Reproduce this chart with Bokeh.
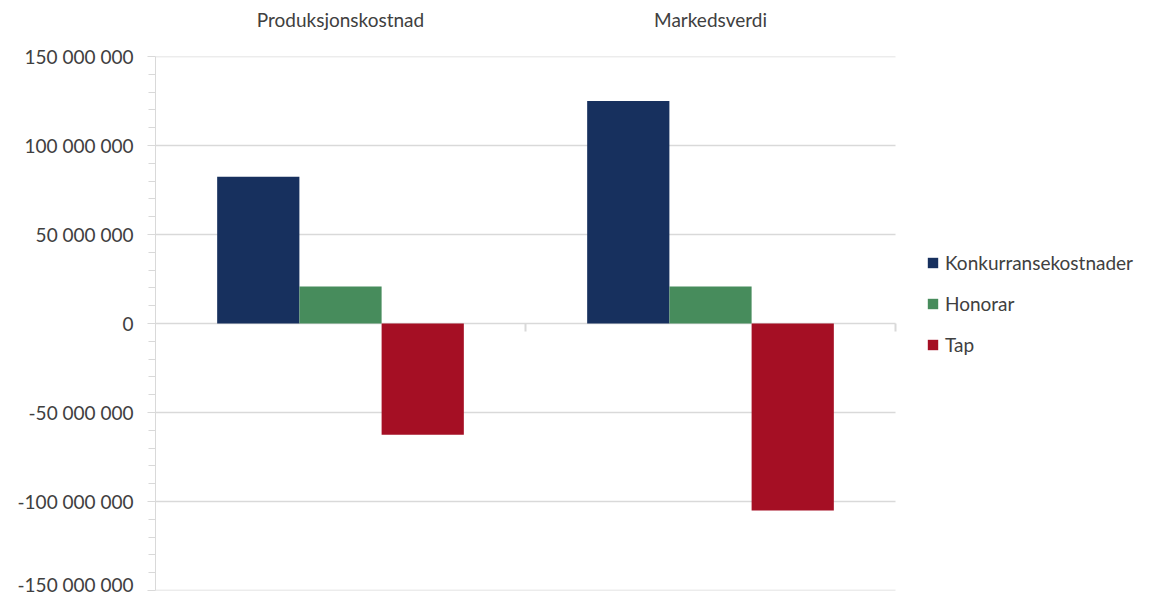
from bokeh.plotting import figure
from bokeh.models import ColumnDataSource, FixedTicker, Range1d, Legend, LegendItem, LinearAxis
from bokeh.embed import file_html
from bokeh.resources import INLINE

categories = ["Produksjonskostnad", "Markedsverdi"]
series = ["Konkurransekostnader", "Honorar", "Tap"]
konkurransekostnader = [82_500_000, 125_000_000]
honorar = [20_800_000, 20_800_000]
tap = [-62_500_000, -105_000_000]
colors = ["#17305E", "#478C5C", "#A50F24"]
y_ticks = [-150_000_000, -100_000_000, -50_000_000, 0, 50_000_000, 100_000_000, 150_000_000]
y_tick_labels = ["-150 000 000", "-100 000 000", "-50 000 000", "0", "50 000 000", "100 000 000", "150 000 000"]

FONT = "Lato"
TXT = "#404040"
GRID = "#d9d9d9"

W, H = 1153, 595
LEFT, TOP, BOTTOM = 155, 56, 5
CAT_PX = 740  # pixel width of the category area; the rest of the frame holds the legend
n = len(categories)
x_end = n * (W - LEFT) / CAT_PX

p = figure(width=W, height=H, output_backend="svg", toolbar_location=None,
           x_range=Range1d(0, x_end), y_range=Range1d(-150_000_000, 150_000_000),
           min_border_left=LEFT, min_border_right=0, min_border_top=TOP, min_border_bottom=BOTTOM)
p.outline_line_color = None
p.xaxis.visible = False
p.xgrid.visible = False
p.ygrid.visible = False

# y axis
ya = p.yaxis[0]
minor = [v for v in range(-150_000_000, 150_000_001, 10_000_000) if v % 50_000_000 != 0]
ya.ticker = FixedTicker(ticks=y_ticks, minor_ticks=minor)
ya.major_label_overrides = {t: l for t, l in zip(y_ticks, y_tick_labels)}
ya.axis_line_color = GRID
ya.major_tick_line_color = GRID
ya.minor_tick_line_color = GRID
ya.major_tick_out = 8
ya.major_tick_in = 0
ya.minor_tick_out = 7
ya.minor_tick_in = 0
ya.major_label_standoff = 14
ya.major_label_text_font = FONT
ya.major_label_text_font_size = "19px"
ya.major_label_text_color = TXT

# horizontal grid lines over the category area only
p.segment(x0=[0] * len(y_ticks), x1=[n] * len(y_ticks), y0=y_ticks, y1=y_ticks,
          line_color=GRID, line_width=1.3)

# category labels on top
top = LinearAxis(ticker=FixedTicker(ticks=[i + 0.5 for i in range(n)]),
                 major_label_overrides={i + 0.5: c for i, c in enumerate(categories)})
top.axis_line_color = None
top.major_tick_line_color = None
top.minor_tick_line_color = None
top.major_label_standoff = 20
top.major_label_text_font = FONT
top.major_label_text_font_size = "19px"
top.major_label_text_color = TXT
p.add_layout(top, "above")

# category boundary ticks below zero line
bounds = list(range(1, n + 1))
p.segment(x0=bounds, x1=bounds, y0=[0] * len(bounds), y1=[-4_500_000] * len(bounds),
          line_color=GRID, line_width=2)

w = 1 / (len(series) + 1.5)
vals = [konkurransekostnader, honorar, tap]
renderers = []
for k, (name, v, c) in enumerate(zip(series, vals, colors)):
    xs = [i + 0.5 + (k - 1) * w for i in range(n)]
    src = ColumnDataSource(dict(x=xs, top=v))
    r = p.vbar(x="x", top="top", bottom=0, width=w, source=src, fill_color=c, line_color=None)
    renderers.append(r)

legend = Legend(items=[LegendItem(label=s, renderers=[r]) for s, r in zip(series, renderers)],
                location=(CAT_PX + 31, 234))
legend.border_line_color = None
legend.background_fill_alpha = 0
legend.padding = 0
legend.margin = 0
legend.glyph_width = 13
legend.glyph_height = 13
legend.label_standoff = 6
legend.label_text_font = FONT
legend.label_text_font_size = "19px"
legend.label_text_color = TXT
legend.label_height = 20
legend.spacing = 18
p.add_layout(legend, "center")

open("out.html", "w").write(file_html(p, INLINE))
